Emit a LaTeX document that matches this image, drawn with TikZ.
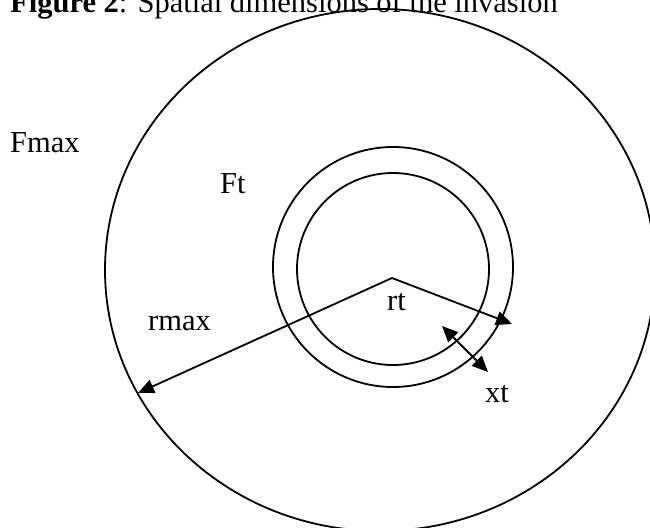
\documentclass[tikz,border=0pt]{standalone}
\usepackage{fontspec}
\setmainfont{Liberation Serif}
\usetikzlibrary{arrows.meta,shapes.geometric}
\begin{document}
\begin{tikzpicture}[x=1pt,y=-1pt,
  ringc/.style={draw,line width=1.8pt,inner sep=0pt,circle},
  lbl/.style={anchor=base west,inner sep=0pt,font=\fontsize{30.5}{36}\selectfont},
  arr/.style={line width=1.8pt,-{Triangle[length=16pt,width=14pt]}},
  darr/.style={line width=1.8pt,{Triangle[length=16pt,width=14pt]}-{Triangle[length=16pt,width=14pt]}}]
\useasboundingbox (0,0) rectangle (650,527);
\node[draw,line width=1.8pt,ellipse,inner sep=0pt,minimum width=550pt,minimum height=522pt] (big) at (380,270) {};
\node[ringc,minimum size=240pt] (outer) at (393,267) {};
\node[ringc,minimum size=192pt] (inner) at (393,269) {};
\coordinate (c) at (392,278);
\coordinate (rm) at (138,393);
\coordinate (rtend) at (512,324);
\coordinate (x1) at (442,326);
\coordinate (x2) at (488,372);
\draw[arr] (c) -- (rm);
\draw[arr] (c) -- (rtend);
\draw[darr] (x1) -- (x2);
\node[lbl] (title) at (10,13) {\textbf{Figure 2}: Spatial dimensions of the invasion};
\node[lbl] (fmax) at (10,152) {Fmax};
\node[lbl] (ft) at (220,193) {Ft};
\node[lbl] (rt) at (387,310) {rt};
\node[lbl] (rmax) at (148,330) {rmax};
\node[lbl] (xt) at (485,402) {xt};
\end{tikzpicture}
\end{document}
